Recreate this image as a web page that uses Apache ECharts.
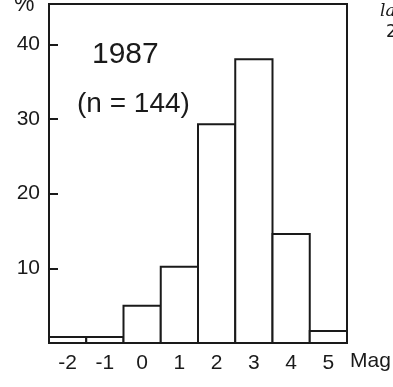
<!DOCTYPE html>
<html>
<head>
<meta charset="utf-8">
<style>
  html, body { margin: 0; padding: 0; background: #fff; }
  #chart { width: 393px; height: 387px; }
</style>
<script src="https://cdn.jsdelivr.net/npm/echarts@6/dist/echarts.min.js"></script>
</head>
<body>
<div id="chart"></div>
<script>
// Magnitude bins and share of objects (%) in each bin, 1987 sample
const magnitudes = ['-2', '-1', '0', '1', '2', '3', '4', '5'];
const percentages = [0.8, 0.8, 5.0, 10.2, 29.3, 38.0, 14.6, 1.6];
const yTicks = [10, 20, 30, 40];
const yearLabel = '1987';
const sampleLabel = '(n = 144)';

const ink = '#1a1a1a';
const chart = echarts.init(document.getElementById('chart'), null, { renderer: 'canvas' });

// Histogram columns: each bin spans its whole category band so neighbours share an edge
function renderColumn(params, api) {
  const idx = api.value(0);
  const val = api.value(1);
  const top = api.coord([idx, val]);
  const base = api.coord([idx, 0]);
  const band = api.size([1, 0])[0];
  return {
    type: 'rect',
    shape: { x: top[0] - band / 2, y: top[1], width: band, height: base[1] - top[1] },
    style: { fill: '#ffffff', stroke: ink, lineWidth: 2 }
  };
}

chart.setOption({
  backgroundColor: '#ffffff',
  animation: false,
  grid: {
    left: 49, right: 46, top: 4, bottom: 44,
    show: true, borderColor: ink, borderWidth: 2, backgroundColor: 'transparent'
  },
  xAxis: {
    type: 'category',
    data: magnitudes,
    boundaryGap: true,
    axisLine: { lineStyle: { color: ink, width: 2 } },
    axisTick: { show: false },
    axisLabel: {
      color: ink, fontFamily: 'Liberation Sans', fontSize: 21, margin: 10
    }
  },
  yAxis: {
    type: 'value',
    min: 0,
    max: 45.4,
    interval: 10,
    splitLine: { show: false },
    axisLine: { show: true, lineStyle: { color: ink, width: 2 } },
    axisTick: {
      show: true, inside: true, length: 9, customValues: yTicks,
      lineStyle: { color: ink, width: 2 }
    },
    axisLabel: {
      color: ink, fontFamily: 'Liberation Sans', fontSize: 21, margin: 9,
      customValues: yTicks
    }
  },
  series: [{
    type: 'custom',
    renderItem: renderColumn,
    encode: { x: 0, y: 1 },
    data: percentages.map((v, i) => [i, v]),
    z: 1
  }],
  graphic: [
    { type: 'text', left: 14, top: -7,
      style: { text: '%', fill: ink, font: '23px "Liberation Sans"' } },
    { type: 'text', left: 92, top: 40,
      style: { text: yearLabel, fill: ink, font: '30px "Liberation Sans Narrow", "Liberation Sans"' } },
    { type: 'text', left: 77, top: 90,
      style: { text: sampleLabel, fill: ink, font: '28px "Liberation Sans Narrow", "Liberation Sans"' } },
    { type: 'text', left: 350, top: 351,
      style: { text: 'Mag', fill: ink, font: '21px "Liberation Sans"' } },
    { type: 'text', left: 380, top: 3,
      style: { text: 'la', fill: ink, font: 'italic 17px "DejaVu Serif"' } },
    { type: 'text', left: 386, top: 24,
      style: { text: '2', fill: ink, font: '17px "DejaVu Sans"' } }
  ]
});
</script>
</body>
</html>
